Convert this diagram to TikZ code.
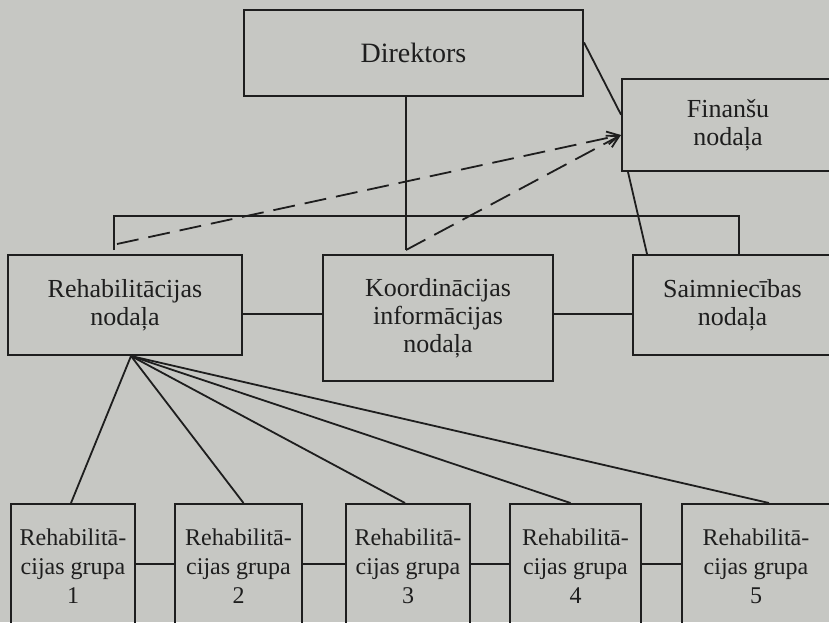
\documentclass[tikz,border=0pt]{standalone}
\usepackage{fontspec}
\setmainfont{Liberation Serif}
\usetikzlibrary{arrows.meta,calc}
\definecolor{paper}{RGB}{198,199,195}
\definecolor{ink}{RGB}{30,30,30}
\tikzset{
  box/.style={draw=ink, line width=2pt, align=center, text=ink, inner sep=0pt,
    font=\fontsize{26}{28}\selectfont},
  grpbox/.style={box, minimum height=124pt, font=\fontsize{24}{29}\selectfont},
  link/.style={draw=ink, line width=1.8pt},
  dashlink/.style={link, dash pattern=on 22pt off 10pt, ->},
  >={Straight Barb[length=12pt,width=13pt]}
}
\begin{document}
\begin{tikzpicture}[x=1pt,y=-1pt]
% Page
\useasboundingbox (0,0) rectangle (829,622);
\fill[paper] (0,0) rectangle (829,622);
\clip (0,0) rectangle (829,622);

% Top level
\node[box, minimum width=339pt, minimum height=86pt, font=\fontsize{28}{30}\selectfont] (dir) at (413.5,53) {Direktors};
\node[box, minimum width=212pt, minimum height=92pt] (fin) at (728,125) {Finanšu\\nodaļa};

% Departments
\node[box, minimum width=234pt, minimum height=100pt] (reh) at (125,305) {Rehabilitācijas\\nodaļa};
\node[box, minimum width=230pt, minimum height=126pt] (koo) at (438,318) {Koordinācijas\\informācijas\\nodaļa};
\node[box, minimum width=199pt, minimum height=100pt] (sai) at (732.5,305) {Saimniecības\\nodaļa};

% Groups
\foreach \i/\x/\w in {1/73/124,2/238.5/127,3/408/124,4/575.5/131,5/756/148}
    \node[grpbox, minimum width=\w pt] (g\i) at (\x,566) {Rehabilitā-\\cijas grupa\\\i};

% Director to departments
\coordinate (trunk) at (406,250);
\coordinate (busL) at (114,216);
\coordinate (busR) at (739,216);
\draw[link] (dir.south -| trunk) -- (trunk);
\draw[link] (busL |- trunk) -- (busL) -- (busR) -- (busR |- sai.north);

% Finance links
\draw[link] ($(dir.north east)!0.38!(dir.south east)$) -- ($(fin.north west)!0.39!(fin.south west)$);
\draw[link] ([xshift=7pt]fin.south west) -- ([xshift=15pt]sai.north west);
\coordinate (finin) at ([yshift=-10pt]fin.west);
\coordinate (dashA) at (117,244);
\draw[dashlink] (dashA) -- (finin);
\draw[dashlink] (trunk) -- (finin);

% Between departments
\coordinate (mid) at ([yshift=-9pt]reh.east);
\draw[link] (mid) -- (mid -| koo.west);
\draw[link] (mid -| koo.east) -- (mid -| sai.west);

% Fan to groups
\coordinate (hub) at ([xshift=6pt]reh.south);
\foreach \i/\dx in {1/-2,2/5,3/-3,4/-5,5/13}
    \draw[link] (hub) -- ([xshift=\dx pt]g\i.north);
\foreach \a/\b in {1/2,2/3,3/4,4/5}
    \draw[link] ([yshift=2pt]g\a.east) -- ([yshift=2pt]g\b.west);

\end{tikzpicture}
\end{document}
